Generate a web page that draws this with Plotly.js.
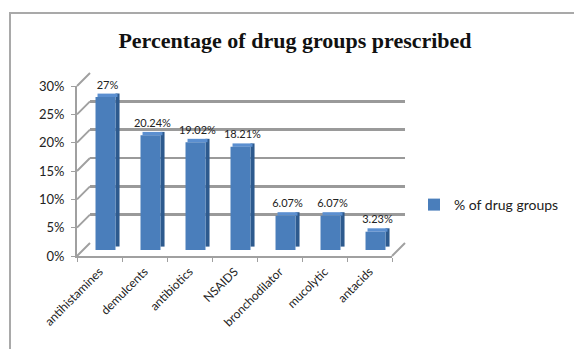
<!DOCTYPE html>
<html>
<head>
<meta charset="utf-8">
<script src="https://cdn.plot.ly/plotly-3.0.1.min.js"></script>
<style>
  html, body { margin: 0; padding: 0; background: #fff; }
  #wrap { position: relative; width: 574px; height: 349px; overflow: hidden; }
  #chart { position: absolute; left: 0; top: 0; width: 574px; height: 349px; }
  #frame { position: absolute; left: 9px; top: 12px; width: 700px; height: 500px;
           border-left: 2px solid #a9a9a9; border-top: 2px solid #a9a9a9; pointer-events: none; }
</style>
</head>
<body>
<div id="wrap">
  <div id="chart"></div>
  <div id="frame"></div>
</div>
<script>
// Drug groups and the share of prescriptions for each (percent)
const categories = ['antihistamines', 'demulcents', 'antibiotics', 'NSAIDS', 'bronchodilator', 'mucolytic', 'antacids'];
const shares = [27, 20.24, 19.02, 18.21, 6.07, 6.07, 3.23];
const seriesName = '% of drug groups';
const chartTitle = 'Percentage of drug groups prescribed';
const yTicks = [0, 5, 10, 15, 20, 25, 30];
const yTickText = yTicks.map(v => v + '%');

const W = 574, H = 349;
const px = x => x / W;            // horizontal pixel -> paper fraction
const py = y => 1 - y / H;        // vertical pixel -> paper fraction

// Pseudo-3D box: front plane, bar plane (mid depth) and back wall
const depth = 13;
const front = { x0: 77, x1: 392, yTop: 86, yBot: 256 };
const mid   = { x0: front.x0 + 6, x1: front.x1 + 6, yTop: front.yTop - 6, yBot: front.yBot - 6 };
const back  = { x0: front.x0 + depth, x1: front.x1 + depth, yTop: front.yTop - depth, yBot: front.yBot - depth };

const yMax = 30;
const edge = '#a0a0a0';
const font = 'Lato, "Liberation Sans", sans-serif';

const faceW = 0.444;          // front face width in category units
const sideW = 0.09;           // side face width
const lift = 0.6;             // vertical shift of the receding faces (percent units)

const traces = [
  // hidden carriers so the category axes draw
  { type: 'scatter', x: categories, y: shares, xaxis: 'x', yaxis: 'y',
    mode: 'markers', marker: { opacity: 0 }, showlegend: false, hoverinfo: 'skip' },
  { type: 'scatter', x: categories, y: shares, xaxis: 'x2', yaxis: 'y2',
    mode: 'markers', marker: { opacity: 0 }, showlegend: false, hoverinfo: 'skip' },
  // side face of each column
  { type: 'bar', x: categories, y: shares, base: shares.map(() => lift),
    xaxis: 'x3', yaxis: 'y3', width: sideW, offset: faceW / 2,
    marker: { color: '#2d5a8e', line: { width: 0 } }, showlegend: false, hoverinfo: 'skip' },
  // top face of each column, carrying the value label
  { type: 'bar', x: categories, y: shares.map(() => lift), base: shares,
    xaxis: 'x3', yaxis: 'y3', width: faceW, offset: -faceW / 2 + sideW / 2,
    marker: { color: '#5b8fd0', line: { width: 0 } }, showlegend: false, hoverinfo: 'skip',
    text: shares.map(v => v + '%'), textposition: 'outside', cliponaxis: false,
    constraintext: 'none',
    textfont: { family: font, size: 11, color: '#222' } },
  // front face of each column
  { type: 'bar', name: seriesName, x: categories, y: shares,
    xaxis: 'x3', yaxis: 'y3', width: faceW, offset: -faceW / 2,
    marker: { color: '#4a7ebb', line: { width: 0 } } }
];

// slanted edges of the side wall and floor
const shapes = [];
const yFront = v => py(front.yBot - (front.yBot - front.yTop) * v / yMax);
const yBack = v => py(back.yBot - (back.yBot - back.yTop) * v / yMax);
yTicks.forEach(v => {
  shapes.push({ type: 'line', xref: 'paper', yref: 'paper',
    x0: px(front.x0), y0: yFront(v), x1: px(back.x0), y1: yBack(v),
    line: { color: edge, width: 2 } });
});
shapes.push({ type: 'line', xref: 'paper', yref: 'paper',
  x0: px(front.x1), y0: yFront(0), x1: px(back.x1), y1: yBack(0),
  line: { color: edge, width: 2 } });

const catAxis = (dom, anchor, showLabels) => ({
  domain: dom, anchor: anchor, type: 'category', range: [-0.5, categories.length - 0.5],
  categoryarray: categories, showgrid: false, zeroline: false, fixedrange: true,
  showticklabels: showLabels, showline: showLabels, linecolor: edge, linewidth: 2,
  ticks: showLabels ? 'outside' : '', tickson: 'boundaries', ticklen: 4, tickcolor: edge,
  ticklabelstandoff: 2,
  tickangle: -45, tickfont: { family: font, size: 12, color: '#222' }
});
const valAxis = (dom, anchor) => ({
  domain: dom, anchor: anchor, range: [0, yMax], dtick: 5, showgrid: false,
  zeroline: false, showticklabels: false, fixedrange: true
});

const layout = {
  width: W, height: H,
  margin: { l: 0, r: 0, t: 0, b: 0 },
  paper_bgcolor: 'rgba(0,0,0,0)', plot_bgcolor: 'rgba(0,0,0,0)',
  barmode: 'overlay',
  title: { text: chartTitle, x: px(295), y: py(40), xanchor: 'center', yanchor: 'middle',
    font: { family: '"Liberation Serif", "Times New Roman", serif', size: 22, color: '#111', weight: 'bold' } },
  xaxis: catAxis([px(front.x0), px(front.x1)], 'y', true),
  yaxis: Object.assign(valAxis([py(front.yBot), py(front.yTop)], 'x'), {
    showticklabels: true, tickmode: 'array', tickvals: yTicks, ticktext: yTickText,
    showline: true, linecolor: edge, linewidth: 2,
    ticks: 'outside', ticklen: 4, tickcolor: edge, ticklabelstandoff: 4,
    tickfont: { family: font, size: 13, color: '#222' } }),
  xaxis2: catAxis([px(back.x0), px(back.x1)], 'y2', false),
  yaxis2: Object.assign(valAxis([py(back.yBot), py(back.yTop)], 'x2'), {
    showgrid: true, gridcolor: '#9a9a9a', gridwidth: 2.5, tickmode: 'array', tickvals: yTicks }),
  xaxis3: catAxis([px(mid.x0), px(mid.x1)], 'y3', false),
  yaxis3: valAxis([py(mid.yBot), py(mid.yTop)], 'x3'),
  showlegend: true,
  legend: { x: px(414), y: py(205), xanchor: 'left', yanchor: 'middle',
    font: { family: font, size: 14, color: '#222' }, bgcolor: 'rgba(0,0,0,0)' },
  shapes: shapes
};

Plotly.newPlot('chart', traces, layout, { displayModeBar: false, staticPlot: true });
</script>
</body>
</html>
